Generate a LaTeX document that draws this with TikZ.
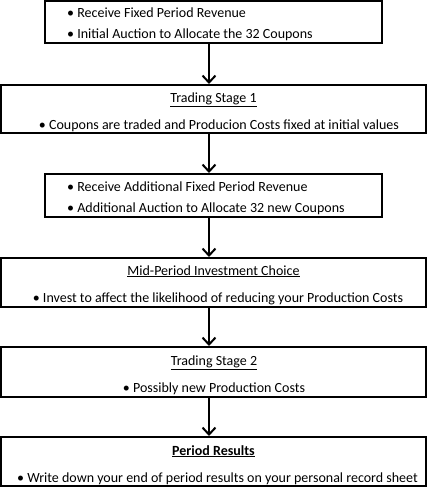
\documentclass[tikz,border=0pt]{standalone}
\usepackage{fontspec}
\setmainfont{Carlito}
\usetikzlibrary{positioning}
\usetikzlibrary{arrows.meta}

\tikzset{
  stagebox/.style={draw,line width=2pt,inner sep=0pt},
  stagetext/.style={anchor=base,inner sep=0pt,font=\fontsize{14}{16}\selectfont},
  flow/.style={line width=2pt,-{Straight Barb[length=7pt,width=13pt,line width=2pt]}}
}

\begin{document}
\begin{tikzpicture}[x=1pt,y=-1pt]
		\useasboundingbox (0,0) rectangle (427,487);
		% boxes
		\node[stagebox,minimum width=337pt,minimum height=42pt] (b1) at (213.5,22) {};
		\node[stagebox,minimum width=425pt,minimum height=48pt] (b2) at (213.5,109) {};
		\node[stagebox,minimum width=337pt,minimum height=43pt] (b3) at (213.5,195.5) {};
		\node[stagebox,minimum width=425pt,minimum height=49pt] (b4) at (213.5,282.5) {};
		\node[stagebox,minimum width=425pt,minimum height=50pt] (b5) at (213.5,372) {};
		\node[stagebox,minimum width=425pt,minimum height=49pt] (b6) at (213.5,461.5) {};
		% texts
		\node[stagetext,anchor=base west] (t1a) at (67,18) {\textbullet\ Receive Fixed Period Revenue};
		\node[stagetext,anchor=base west] (t1b) at (67,38) {\textbullet\ Initial Auction to Allocate the 32 Coupons};
		\node[stagetext] (t2a) at (213.5,102) {\underline{Trading Stage 1}};
		\node[stagetext] (t2b) at (219,129) {\textbullet\ Coupons are traded and Producion Costs fixed at initial values};
		\node[stagetext,anchor=base west] (t3a) at (67,191) {\textbullet\ Receive Additional Fixed Period Revenue};
		\node[stagetext,anchor=base west] (t3b) at (67,212) {\textbullet\ Additional Auction to Allocate 32 new Coupons};
		\node[stagetext] (t4a) at (213.5,275) {\underline{Mid-Period Investment Choice}};
		\node[stagetext] (t4b) at (218,302) {\textbullet\ Invest to affect the likelihood of reducing your Production Costs};
		\node[stagetext] (t5a) at (214,365) {\underline{Trading Stage 2}};
		\node[stagetext] (t5b) at (214,392) {\textbullet\ Possibly new Production Costs};
		\node[stagetext] (t6a) at (213.5,455) {\underline{\textbf{Period Results}}};
		\node[stagetext] (t6b) at (217.5,482) {\textbullet\ Write down your end of period results on your personal record sheet};
		% arrows
		\coordinate (axis) at (209,0);
		\draw[flow] (b1.south -| axis) -- (b2.north -| axis);
		\draw[flow] (b2.south -| axis) -- (b3.north -| axis);
		\draw[flow] (b3.south -| axis) -- (b4.north -| axis);
		\draw[flow] (b4.south -| axis) -- (b5.north -| axis);
		\draw[flow] (b5.south -| axis) -- (b6.north -| axis);
\end{tikzpicture}
\end{document}
